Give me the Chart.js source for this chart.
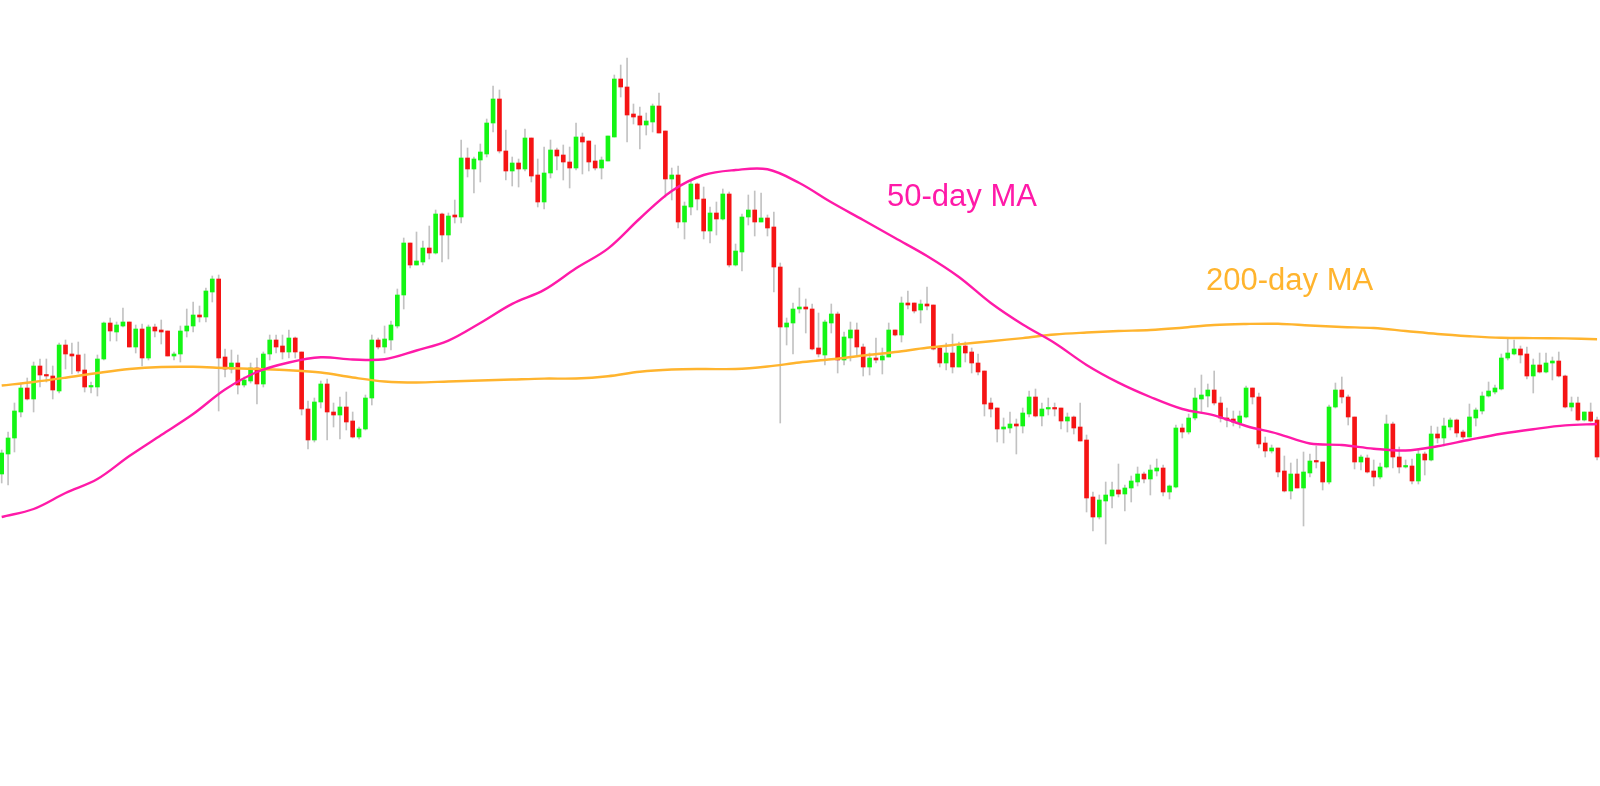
<!DOCTYPE html>
<html>
<head>
<meta charset="utf-8">
<script src="https://cdn.jsdelivr.net/npm/chart.js@4"></script>
<style>
  html, body { margin: 0; padding: 0; background: #fff; }
  #wrap { width: 1600px; height: 786px; }
</style>
</head>
<body>
<div id="wrap"><canvas id="candles" width="1600" height="786"></canvas></div>
<script>
// daily candles (price units, no axis shown)
const opens = [32.6,34.6,36.2,38.8,41.2,40.1,43.4,42.5,42.4,40.9,45.5,44.6,44.5,43.0,41.3,41.3,44.1,47.7,46.8,47.4,
  47.8,45.3,47.1,44.2,47.3,47.0,46.9,44.4,44.6,46.9,47.4,48.5,48.3,50.8,52.1,44.3,43.1,43.7,41.5,41.9,
  43.2,41.6,44.6,46.0,45.4,44.8,46.2,44.8,39.1,36.0,39.8,41.6,38.8,38.5,39.3,37.9,36.3,37.1,40.2,46.0,
  45.3,46.0,47.4,50.5,55.7,53.5,53.8,55.2,54.7,58.6,56.5,58.5,58.3,64.2,63.1,64.0,64.6,67.7,70.1,64.9,
  62.9,63.7,63.1,66.2,62.5,59.8,62.7,65.0,64.5,63.8,63.2,66.3,65.9,63.9,63.2,63.9,66.3,72.1,71.3,68.6,
  68.4,67.5,67.8,69.4,66.9,62.1,62.5,57.8,59.3,61.6,60.1,56.9,58.7,58.1,60.6,53.5,54.8,58.3,59.0,57.8,
  58.2,57.3,53.3,47.3,47.7,49.1,49.3,49.1,45.2,44.5,47.7,48.6,44.0,46.2,47.0,45.3,43.3,44.2,44.0,44.3,
  47.0,46.5,49.7,49.7,49.0,49.6,49.5,45.2,43.7,44.7,43.3,45.4,44.8,43.7,42.9,39.7,39.2,37.1,37.2,37.6,
  37.4,38.6,40.3,38.4,39.1,39.2,39.2,37.9,38.3,37.3,36.0,30.3,28.3,29.9,30.4,31.0,30.6,31.2,31.8,32.6,
  32.1,32.9,33.2,30.8,31.3,37.2,36.8,38.2,40.1,40.4,41.0,39.7,38.2,38.1,37.7,38.3,41.2,40.3,35.7,34.9,
  35.2,32.9,30.9,32.6,31.2,32.7,33.9,33.8,31.8,39.3,41.0,40.3,38.3,33.8,34.2,32.9,32.3,33.3,37.6,34.3,
  33.3,33.4,31.9,34.6,34.0,36.6,36.2,37.3,38.0,36.8,36.3,38.2,38.9,40.4,40.8,41.1,44.2,44.6,45.1,44.6,
  42.4,43.5,42.8,43.7,43.9,42.4,39.3,39.7,38.0,38.8,38.0];
const highs = [35.0,36.8,39.7,41.7,42.2,43.8,44.1,44.1,43.4,45.7,46.0,45.7,45.8,44.6,41.8,44.5,47.8,48.2,47.8,49.2,
  47.8,47.5,47.6,47.5,47.6,48.0,46.9,44.8,47.4,49.1,49.8,49.4,51.2,52.4,52.5,45.1,45.0,44.5,42.3,43.7,
  44.2,44.8,46.5,46.5,46.5,47.0,46.3,44.8,39.9,40.2,41.9,42.1,39.7,40.3,40.8,38.8,37.3,40.5,46.5,46.2,
  47.4,47.9,51.1,56.2,55.7,56.8,55.9,57.4,59.0,58.7,58.7,60.0,66.0,65.2,64.3,65.6,68.1,71.4,71.0,67.0,
  64.3,64.1,67.1,66.2,64.1,65.3,66.0,65.2,65.5,65.3,67.7,66.7,65.9,65.5,64.3,66.4,72.5,73.5,74.2,69.6,
  69.3,68.7,69.6,70.7,66.9,63.2,63.4,59.8,61.9,61.7,61.3,59.3,59.8,61.1,60.8,55.6,58.6,60.5,60.9,60.7,
  58.5,58.8,53.7,48.2,49.7,51.2,50.1,49.6,48.7,48.0,49.6,48.8,46.8,47.8,47.7,45.6,44.7,46.2,45.2,47.7,
  47.0,50.3,50.9,49.7,50.0,51.3,49.5,45.3,45.7,46.6,45.8,45.8,45.2,44.6,42.9,40.2,39.2,38.2,38.8,38.1,
  39.2,40.9,41.1,39.7,40.2,39.7,39.2,38.7,38.4,39.7,36.5,30.8,30.5,31.8,31.8,33.6,31.5,32.4,33.3,32.8,
  33.5,34.1,33.5,31.5,37.5,37.6,38.6,41.2,42.5,41.6,42.9,40.3,39.2,38.9,38.9,41.4,41.2,40.7,36.3,35.5,
  35.2,34.4,33.7,34.1,34.8,34.6,35.4,33.8,39.5,41.7,42.3,40.5,38.3,34.5,34.5,34.0,33.7,38.5,37.8,35.3,
  34.0,34.1,35.0,34.8,37.4,37.3,38.2,38.2,38.1,37.0,39.6,39.2,40.8,41.8,41.5,44.6,46.1,46.0,45.4,45.3,
  44.1,44.7,44.7,44.3,44.8,42.5,40.3,40.3,38.8,39.7,38.3];
const lows = [31.7,31.5,34.8,38.3,40.0,38.8,41.3,41.8,40.1,40.7,43.1,42.6,42.7,40.8,40.7,40.4,44.0,45.9,45.9,47.3,
  45.3,44.7,43.4,44.0,46.3,45.6,44.4,44.0,43.8,46.3,46.8,47.8,47.8,49.8,38.9,42.3,42.7,40.6,41.3,41.7,
  39.6,41.3,44.0,44.7,44.1,44.2,44.2,38.5,35.1,35.8,39.2,36.0,37.3,36.1,37.0,36.2,36.1,37.0,39.5,45.1,
  44.7,45.0,47.2,49.1,53.2,53.5,53.5,54.1,54.6,53.8,54.1,57.7,57.7,62.3,60.7,61.8,64.3,66.8,64.7,62.0,
  61.4,61.3,62.9,61.8,59.3,59.1,62.2,63.0,62.0,61.2,63.0,62.6,62.9,63.0,62.1,63.9,66.3,70.3,65.8,67.6,
  65.1,66.5,66.8,66.7,60.3,60.0,57.2,56.1,58.5,59.0,56.1,55.7,56.5,58.0,53.3,53.4,52.9,57.5,56.4,57.8,
  56.4,50.8,37.7,45.5,44.6,48.7,46.7,45.0,44.3,43.5,46.7,42.7,43.5,43.9,44.4,42.4,42.5,43.7,42.6,44.3,
  46.4,45.8,49.1,48.7,47.7,49.0,45.0,43.3,43.0,42.7,43.3,43.8,42.7,42.5,38.4,38.3,35.8,35.7,36.7,34.6,
  36.7,38.3,38.3,37.4,38.5,38.4,37.1,36.8,36.6,35.9,28.8,26.9,28.1,25.6,29.2,30.3,28.9,29.8,31.4,31.7,
  30.5,32.4,30.4,30.1,31.2,36.2,36.6,38.0,38.7,39.3,39.5,37.8,37.3,37.4,37.2,38.2,39.6,35.2,34.3,34.7,
  32.3,30.8,30.1,31.2,27.4,32.3,33.2,31.0,31.6,39.2,39.7,37.5,33.1,33.0,32.7,31.4,32.1,33.2,33.2,32.7,
  33.2,31.6,31.6,32.5,33.9,35.7,35.4,37.0,36.3,36.1,36.3,37.4,38.6,40.3,40.6,41.0,44.0,44.5,43.7,42.1,
  40.7,42.7,42.7,42.0,42.3,39.2,38.9,37.9,37.9,37.8,34.0];
const closes = [34.7,36.2,38.9,41.2,40.1,43.4,42.5,42.4,41.0,45.5,44.6,44.4,42.9,41.3,41.4,44.1,47.7,46.9,47.5,47.8,
  45.3,47.1,44.2,47.3,46.9,46.8,44.4,44.6,46.9,47.4,48.5,48.3,50.9,52.1,44.2,43.1,43.7,41.5,42.0,43.2,
  41.6,44.6,46.0,45.3,44.8,46.2,44.8,39.1,36.0,39.8,41.6,38.8,38.5,39.3,37.8,36.3,37.1,40.2,46.0,45.3,
  46.1,47.5,50.5,55.7,53.5,53.9,55.2,54.7,58.6,56.5,58.4,58.3,64.2,63.1,64.1,64.8,67.7,70.1,64.9,62.9,
  63.7,63.1,66.2,62.4,59.8,62.7,65.0,64.4,63.8,63.2,66.3,65.8,63.8,63.2,64.0,66.4,72.1,71.3,68.5,68.3,
  67.5,67.9,69.4,66.7,62.1,62.5,57.8,59.4,61.6,60.1,56.9,58.7,58.1,60.6,53.5,54.9,58.3,59.0,57.8,58.2,
  57.2,53.3,47.3,47.7,49.1,49.3,49.1,45.1,44.6,47.8,48.6,44.0,46.3,47.0,45.3,43.3,44.2,44.0,44.4,47.0,
  46.5,49.7,49.5,48.9,49.6,49.4,45.1,43.7,44.7,43.3,45.4,44.7,43.7,42.8,39.6,39.1,37.1,37.3,37.6,37.4,
  38.7,40.3,38.4,39.1,39.2,39.1,37.9,38.3,37.2,35.9,30.2,28.3,30.0,30.5,31.0,30.6,31.2,31.9,32.6,32.1,
  33.0,33.2,30.8,31.4,37.2,36.8,38.2,40.2,40.5,41.0,39.7,38.2,38.0,37.8,38.4,41.2,40.3,35.6,34.9,35.2,
  32.8,30.9,32.6,31.2,32.8,33.9,33.8,31.8,39.3,41.0,40.3,38.3,33.8,34.3,32.8,32.3,33.3,37.6,34.3,33.3,
  33.4,31.9,34.6,34.0,36.6,36.2,37.4,38.0,36.7,36.3,38.3,39.0,40.4,40.9,41.2,44.2,44.7,45.1,44.5,42.4,
  43.5,42.8,43.7,43.9,42.4,39.3,39.7,38.0,38.8,37.9,34.3];

// moving averages, every 5th session
const maDays = [0,5,10,15,20,25,30,35,40,45,50,55,60,65,70,75,80,85,90,95,100,105,110,115,120,125,
  130,135,140,145,150,155,160,165,170,175,180,185,190,195,200,205,210,215,220,225,230,235,240,245,250];
const ma50 = [28.3,29.1,30.7,32.1,34.4,36.5,38.6,41.05,42.8,43.75,44.27,44.05,44.07,44.95,45.94,47.7,49.61,51.01,
  53.17,55.14,58.15,60.9,62.5,63.0,63.07,61.7,59.77,58.0,56.2,54.4,52.3,49.7,47.55,45.7,43.51,41.74,40.3,39.1,
  38.46,37.4,36.62,35.65,35.5,35.13,34.95,35.38,36.02,36.62,37.08,37.46,37.6];
const ma200 = [41.45,41.8,42.23,42.7,43.1,43.3,43.32,43.2,43.1,42.98,42.75,42.25,41.85,41.75,41.85,41.95,42.05,
  42.14,42.15,42.38,42.83,43.05,43.1,43.1,43.35,43.75,44.07,44.45,44.8,45.22,45.56,45.88,46.19,46.55,46.75,46.9,
  47.0,47.23,47.5,47.6,47.62,47.45,47.3,47.2,46.9,46.6,46.38,46.22,46.19,46.16,46.08];

const UP = '#14f514', DOWN = '#f51414', WICK = '#c2c2c2';
const PINK = '#ff1aa8', GOLD = '#ffb42e';

const wicks = opens.map((o, i) => ({x: i, y: [lows[i], highs[i]]}));
const bodies = opens.map((o, i) => ({x: i, y: [o, closes[i]]}));
const bodyColors = opens.map((o, i) => closes[i] >= o ? UP : DOWN);

const maLabels = {
  id: 'maLabels',
  afterDraw(chart) {
    const ctx = chart.ctx;
    ctx.save();
    ctx.font = '31px "Liberation Sans", Arial, sans-serif';
    ctx.textBaseline = 'alphabetic';
    ctx.fillStyle = PINK;
    ctx.fillText('50-day MA', 887, 206);
    ctx.fillStyle = GOLD;
    ctx.fillText('200-day MA', 1206, 290);
    ctx.restore();
  }
};

new Chart(document.getElementById('candles'), {
  type: 'bar',
  data: {
    datasets: [{
      label: 'wick',
      data: wicks,
      backgroundColor: WICK,
      barThickness: 1,
      grouped: false,
      order: 4
    }, {
      label: 'body',
      data: bodies,
      backgroundColor: bodyColors,
      barThickness: 4,
      minBarLength: 1.5,
      grouped: false,
      order: 3
    }, {
      type: 'line',
      label: '200-day MA',
      data: maDays.map((d, i) => ({x: d, y: ma200[i]})),
      borderColor: GOLD,
      borderWidth: 2.4,
      pointRadius: 0,
      tension: 0.35,
      order: 1
    }, {
      type: 'line',
      label: '50-day MA',
      data: maDays.map((d, i) => ({x: d, y: ma50[i]})),
      borderColor: PINK,
      borderWidth: 2.4,
      pointRadius: 0,
      tension: 0.35,
      order: 0
    }]
  },
  options: {
    responsive: false,
    animation: false,
    devicePixelRatio: 1,
    layout: { padding: 0 },
    plugins: { legend: { display: false }, tooltip: { enabled: false } },
    scales: {
      x: { type: 'linear', offset: false, min: -0.266, max: 250.46, display: false },
      y: { min: 1.4, max: 80, display: false }
    }
  },
  plugins: [maLabels]
});
</script>
</body>
</html>
